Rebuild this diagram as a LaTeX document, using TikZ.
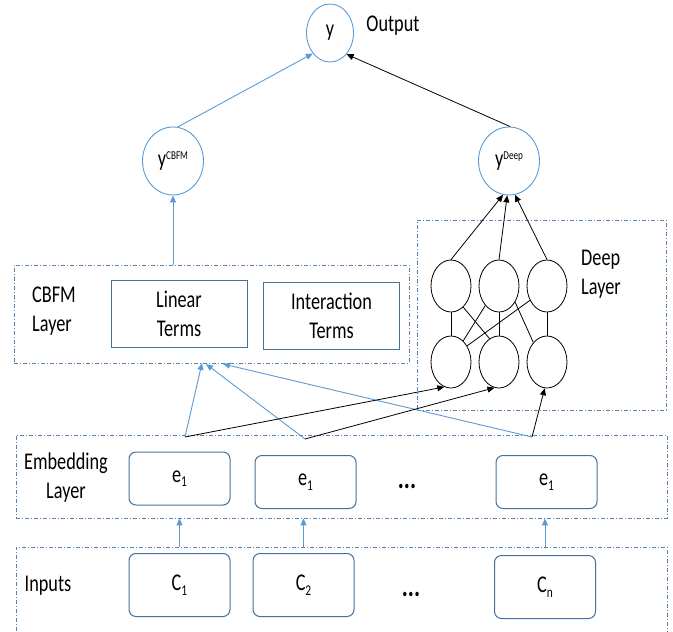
\documentclass[tikz,border=0pt]{standalone}
\usepackage{fontspec}
\setmainfont{Carlito}[FakeStretch=0.76]
\usetikzlibrary{shapes.geometric,arrows.meta,positioning}
\definecolor{linie}{RGB}{91,155,213}
\definecolor{rahmen}{RGB}{65,113,156}
\definecolor{strich}{RGB}{88,130,172}
\newcommand{\hoch}[2]{#1\raisebox{0.6ex}{\fontsize{12}{12}\selectfont #2}}
\newcommand{\tief}[3][15]{#2\raisebox{-0.4ex}{\fontsize{#1}{#1}\selectfont #3}}

\begin{document}
\begin{tikzpicture}[x=1pt, y=-1pt,
    font=\fontsize{24}{29}\selectfont,
    blau/.style={draw=linie, line width=0.9pt, -{Triangle[length=7pt,width=6pt]}},
    schwarz/.style={draw=black, line width=0.8pt, -{Triangle[length=7pt,width=6pt]}},
    layerbox/.style={draw=strich, line width=0.8pt, dash pattern=on 4pt off 2pt on 1pt off 2pt,
        inner sep=0pt},
    ausgang/.style={draw=linie, line width=0.9pt, ellipse, inner sep=0pt},
    neuron/.style={draw, line width=0.8pt, ellipse, inner sep=0pt,
        minimum width=40pt, minimum height=52pt},
    termbox/.style={draw=rahmen, line width=1pt, align=center,
        minimum width=136pt, minimum height=67pt},
    featbox/.style={draw=rahmen, line width=1pt, rounded corners=7pt,
        minimum width=101pt, minimum height=53pt},
    punkte/.style={font=\fontsize{30}{30}\selectfont\bfseries},
    ]
    \useasboundingbox (0,0) rectangle (673,632);
    % Ausgabe
    \node[ausgang, minimum width=47pt, minimum height=58pt] (y) at (330,33) {y};
    \node (out) at (393,26) {Output};
    \node[ausgang, minimum width=61pt, minimum height=68pt] (ycbfm) at (173,161) {\hoch{y}{CBFM}};
    \node[ausgang, minimum width=61pt, minimum height=68pt] (ydeep) at (509,161) {\hoch{y}{Deep}};
    % CBFM Schicht
    \node[layerbox, minimum width=395pt, minimum height=98pt] (cbfm) at (211.5,314) {};
    \node[align=left] (cbfmtxt) at (54,311) {CBFM\\Layer};
    \node[termbox] (linear) at (179,313.5) {Linear\\Terms};
    \node[termbox] (inter) at (331.5,315.5) {Interaction\\Terms};
    % Deep Schicht
    \node[layerbox, minimum width=249pt, minimum height=190pt] (deep) at (541.5,315) {};
    \node[align=left] (deeptxt) at (601,274) {Deep\\Layer};
    \foreach \i/\x in {1/451,2/499,3/547} {
        \node[neuron] (t\i) at (\x,286) {};
        \node[neuron] (b\i) at (\x,362) {};
    }
    % Embedding Schicht
    \node[layerbox, minimum width=651pt, minimum height=83pt] (embed) at (341.5,476.5) {};
    \node[align=center] (embtxt) at (66,478) {Embedding\\Layer};
    \node[featbox] (e1) at (179.5,478.5) {\tief{e}{1}};
    \node[featbox] (e2) at (305.5,482) {\tief{e}{1}};
    \node[punkte] (edots) at (407,486) {...};
    \node[featbox] (e3) at (546.5,482) {\tief{e}{1}};
    % Eingaben
    \node[layerbox, minimum width=651pt, minimum height=94pt] (inputs) at (341.5,594) {};
    \node (intxt) at (48,586) {Inputs};
    \node[featbox, minimum height=63pt] (c1) at (179.5,585) {\tief{C}{1}};
    \node[featbox, minimum height=63pt] (c2) at (303.5,585) {\tief{C}{2}};
    \node[punkte] (cdots) at (411,594) {...};
    \node[featbox, minimum height=63pt] (c3) at (545,587) {\tief{C}{n}};
    % Verzweigungspunkte
    \coordinate (p1) at (185,437);
    \coordinate (p2) at (305,439);
    \coordinate (p3) at (532,437);
    \coordinate (q1) at (202,363);
    \coordinate (q2) at (206,364);
    \coordinate (q3) at (223,364);
    % Pfeile
    \draw[blau] (ycbfm.82) -- (y.-130);
    \draw[schwarz] (ydeep.88) -- (y.-52);
    \draw[blau] (cbfm.north -| ycbfm) -- (ycbfm);
    \foreach \i in {1,2,3} {
        \draw[blau] (inputs.north -| c\i) -- (embed.south -| c\i);
    }
    \draw[blau] (p1) -- (q1);
    \draw[blau] (p2) -- (q2);
    \draw[blau] (p3) -- (q3);
    \draw[schwarz] (p1) -- (b1.-105);
    \draw[schwarz] (p2) -- (b2.-100);
    \draw[schwarz] (p3) -- (b3.-95);
    \draw[schwarz] (t1.north) -- (ydeep.-100);
    \draw[schwarz] (t2.north) -- (ydeep.-93);
    \draw[schwarz] (t3.north) -- (ydeep.-80);
    \foreach \i in {1,2,3} {
        \draw[line width=0.8pt] (t\i.south) -- (b\i.north);
    }
    \draw[line width=0.8pt] (t1.-60) -- (b2.112);
    \draw[line width=0.8pt] (t2.-125) -- (b1.60);
    \draw[line width=0.8pt] (t3.-140) -- (b1.45);
    \draw[line width=0.8pt] (t2.-45) -- (b3.125);
\end{tikzpicture}
\end{document}
